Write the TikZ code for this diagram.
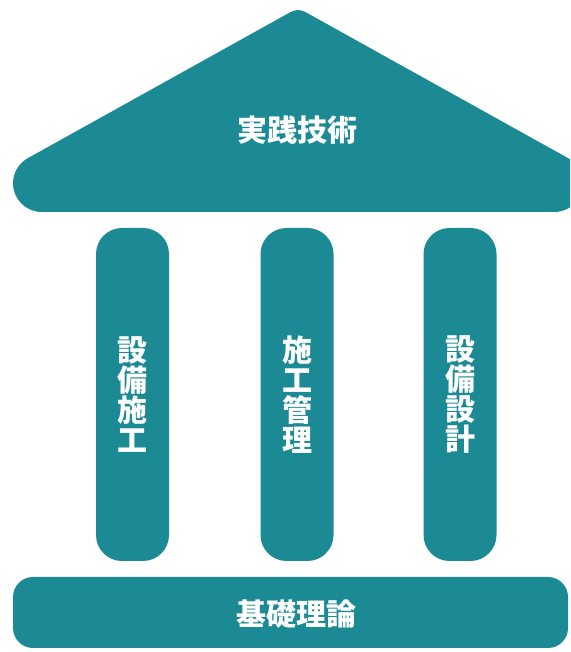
\documentclass[tikz,border=0pt]{standalone}
\usepackage{fontspec}
\newfontfamily\jp{Noto Sans CJK JP}
\definecolor{tealfill}{HTML}{1C8A94}
\begin{document}
\begin{tikzpicture}[x=1pt,y=1pt,
  shapefill/.style={fill=tealfill},
  txt/.style={text=white,font=\jp\bfseries\fontsize{30}{30}\selectfont,inner sep=0pt,align=center},
  pillar/.style={shapefill,rounded corners=26pt,minimum width=73pt,minimum height=333pt,inner sep=0pt},
  basebox/.style={shapefill,rounded corners=20pt,minimum width=555pt,minimum height=71pt,inner sep=0pt}]
\useasboundingbox (0,0) rectangle (570,652);
\clip (0,0) rectangle (570,652);
\fill[white] (0,0) rectangle (570,652);
% roof
\fill[shapefill] (41.7,440) arc[start angle=270,end angle=118.8,radius=28.7]
  -- (290.77,640.04) arc[start angle=118.8,end angle=61.2,radius=15]
  -- (568.1,493.85) arc[start angle=61.2,end angle=-90,radius=28.7] -- cycle;
\node[txt] (roof) at (297,522) {実践技術};
% pillars
\node[pillar] (p1) at (132.5,257.5) {};
\node[pillar] (p2) at (297,257.5) {};
\node[pillar] (p3) at (460,257.5) {};
\node[txt] (t1) at (p1) {設\\備\\施\\工};
\node[txt] (t2) at (p2) {施\\工\\管\\理};
\node[txt] (t3) at (p3) {設\\備\\設\\計};
% base
\node[basebox] (base) at (290.5,39.5) {};
\node[txt] (tb) at (296,38) {基礎理論};
\end{tikzpicture}
\end{document}
